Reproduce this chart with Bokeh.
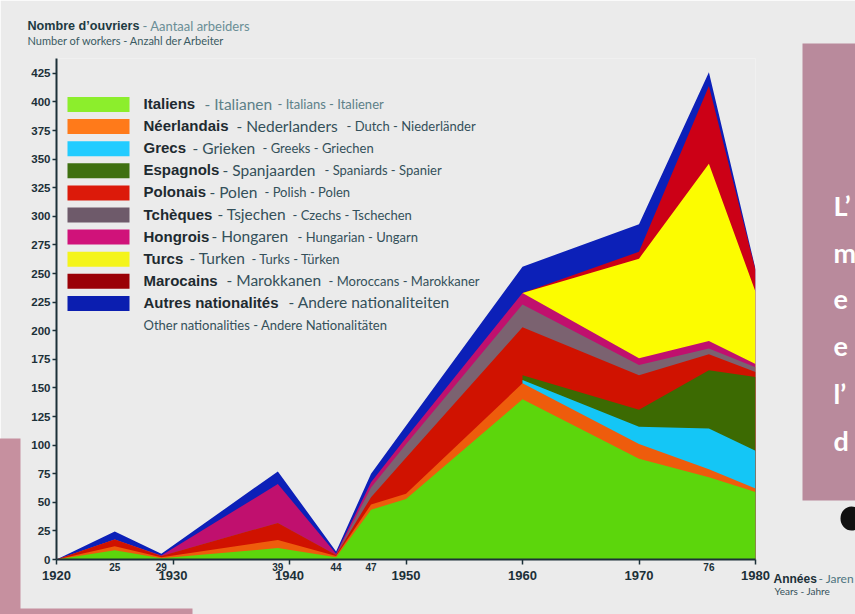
from bokeh.plotting import figure
from bokeh.models import Range1d, FixedTicker
from bokeh.core.properties import value
from bokeh.embed import file_html
from bokeh.resources import INLINE

# ---------------- data ----------------
years = [1920, 1925, 1929, 1939, 1944, 1947, 1950, 1960, 1970, 1976, 1980]
italians   = [0, 8, 1, 10, 2, 43.5, 53, 140, 88, 72, 59]
dutch      = [0, 3.5, 1, 7, 1, 4.5, 4.5, 14, 13, 7, 3]
greeks     = [None, None, None, None, None, None, None, 3, 15, 35.5, 33]
spanish    = [None, None, None, None, None, None, None, 4, 15, 51, 64.5]
polish     = [0, 6, 1, 15, 1, 6.5, 31.5, 42, 30, 14, 4.5]
czechs     = [0, 0, 0, 0, 0, 8.5, 11.7, 20, 9, 5, 4]
hungarians = [0, 0, 0.5, 34, 1, 4.6, 5.7, 10, 6, 6.5, 3]
turks      = [None, None, None, None, None, None, None, 0, 87, 155, 63]
moroccans  = [None, None, None, None, None, None, None, 0, 6, 68, 19]
others     = [0, 7, 1.5, 11, 2, 7.4, 10.6, 23, 24, 12, 1]

names_fr = ["Italiens", "Néerlandais", "Grecs", "Espagnols", "Polonais",
            "Tchèques", "Hongrois", "Turcs", "Marocains", "Autres nationalités"]
names_nl = ["- Italianen", "- Nederlanders", "- Grieken", "- Spanjaarden", "- Polen",
            "- Tsjechen", "- Hongaren", "- Turken", "- Marokkanen", "- Andere nationaliteiten"]
names_en_de = ["- Italians - Italiener", "- Dutch - Niederländer", "- Greeks - Griechen",
               "- Spaniards - Spanier", "- Polish - Polen", "- Czechs - Tschechen",
               "- Hungarian - Ungarn", "- Turks - Türken", "- Moroccans - Marokkaner", ""]
other_line = "Other nationalities - Andere Nationalitäten"

y_ticks = [0, 25, 50, 75, 100, 125, 150, 175, 200, 225, 250, 275, 300, 325, 350, 375, 400, 425]
decades = [1920, 1930, 1940, 1950, 1960, 1970, 1980]
marked_years = [1925, 1929, 1939, 1944, 1947, 1976]
marked_labels = ["25", "29", "39", "44", "47", "76"]

panel_words = ["L’", "m", "e", "e", "l’", "d"]

# ---------------- style ----------------
area_colors = ["#5cd60c", "#ee5c0c", "#14c6f6", "#3c6a02", "#d01200",
               "#7b6270", "#c0106e", "#fcfc00", "#cc0016", "#0c20b8"]
legend_colors = ["#8cee2c", "#ff7a1a", "#22ccff", "#3f7010", "#dc1a0a",
                 "#6e5a6a", "#d0127a", "#f4f41a", "#9a0006", "#0b1eb0"]
BG = "#ebebeb"
AX = "#1c3038"
DARK = "#1e2a30"
MID = "#34505a"
PINK = "#b98a9c"

W, H = 855, 614
L, R, T, B = 56, 100, 58, 55
YMAX = 438

p = figure(width=W, height=H, x_range=Range1d(1920, 1980), y_range=Range1d(0, YMAX),
           output_backend="svg", toolbar_location=None, title=None,
           min_border_left=L, min_border_right=R, min_border_top=T, min_border_bottom=B,
           background_fill_color=BG, border_fill_color=BG, outline_line_color=None)
p.xgrid.visible = False
p.ygrid.visible = False

kx = (W - L - R) / 60.0
ky = (H - T - B) / YMAX


def X(px):
    return 1920 + (px - L) / kx


def Y(py):
    return (H - B - py) / ky


def txt(xs, ys, texts, font="Lato", size="13px", style="normal", color=DARK, align="left"):
    p.text(x=xs, y=ys, text=texts, text_font=value(font), text_font_size=value(size),
           text_font_style=style, text_color=color, text_align=align,
           text_baseline="middle", level="overlay")


# ---------------- stacked areas ----------------
layers = [italians, dutch, greeks, spanish, polish, czechs, hungarians, turks, moroccans, others]
cum = [0.0] * len(years)
tops = []
for layer in layers:
    cum = [c + (v if v is not None else 0) for c, v in zip(cum, layer)]
    tops.append(cum)

for layer, top, col in reversed(list(zip(layers, tops, area_colors))):
    idx = [i for i, v in enumerate(layer) if v is not None]
    xs = [years[i] for i in idx]
    p.varea(x=xs, y1=[0] * len(xs), y2=[top[i] for i in idx], fill_color=col)

# ---------------- axes ----------------
for ax in (p.xaxis, p.yaxis):
    ax.axis_line_color = AX
    ax.axis_line_width = 2
    ax.major_tick_line_color = AX
    ax.major_tick_line_width = 1.5
    ax.major_tick_in = 0
    ax.minor_tick_line_color = None
    ax.major_label_text_font = "Liberation Sans"
    ax.major_label_text_font_style = "bold"
    ax.major_label_text_color = AX
p.yaxis.ticker = FixedTicker(ticks=y_ticks)
p.yaxis.major_tick_out = 4
p.yaxis.major_label_standoff = 2
p.yaxis.major_label_text_font_size = "11.5px"
p.xaxis.ticker = FixedTicker(ticks=decades)
p.xaxis.major_tick_out = 5
p.xaxis.major_label_standoff = 6
p.xaxis.major_label_text_font_size = "13px"

txt(marked_years, [Y(566)] * len(marked_years), marked_labels,
    font="Liberation Sans", size="10px", style="bold", color=AX, align="center")

# axis titles
txt([X(773)], [Y(578)], ["Années"], font="Liberation Sans", size="12px", style="bold", color=AX)
txt([X(818)], [Y(578)], ["- Jaren"], size="12px", color="#4f7480")
txt([X(774)], [Y(590)], ["Years - Jahre"], size="10px", color=MID)

txt([X(27)], [Y(25)], ["Nombre d’ouvriers"], font="Liberation Sans", size="12.6px",
    style="bold", color="#1d3a42")
txt([X(142)], [Y(25)], ["- Aantaal arbeiders"], size="13px", color="#6a8e96")
txt([X(27)], [Y(40)], ["Number of workers - Anzahl der Arbeiter"], size="11px", color="#3a5a62")

# ---------------- legend ----------------
row_y = [103 + 22.1 * i for i in range(len(names_fr))]
nl_x = [204, 236, 192, 222, 209, 217, 211, 189, 226, 288]
sm_x = [277, 346, 262, 324, 264, 292, 297, 251, 328, 0]

p.quad(left=[X(67)] * len(row_y), right=[X(129)] * len(row_y),
       top=[Y(r - 6.5) for r in row_y], bottom=[Y(r + 8.5) for r in row_y],
       fill_color=legend_colors, line_color=None)

txt([X(143)] * len(row_y), [Y(r) for r in row_y], names_fr,
    font="Liberation Sans", size="15px", style="bold", color=DARK)
txt([X(v) for v in nl_x], [Y(r) for r in row_y], names_nl, size="15.5px",
    color=["#5d8088"] + [MID] * (len(row_y) - 1))
sm_idx = [i for i, s in enumerate(names_en_de) if s]
txt([X(sm_x[i]) for i in sm_idx], [Y(row_y[i] + 0.5) for i in sm_idx],
    [names_en_de[i] for i in sm_idx], size="13px",
    color=["#5d8088" if i == 0 else MID for i in sm_idx])
txt([X(143)], [Y(324)], [other_line], size="13px", color=MID)

# ---------------- decorations of the panel ----------------
p.quad(left=[X(802), X(-5), X(-5)], right=[X(860), X(20), X(192)],
       top=[Y(43), Y(438), Y(608)], bottom=[Y(500), Y(620), Y(620)],
       fill_color=[PINK, "#c6909f", "#c6909f"], line_color=None, level="overlay")
p.ellipse(x=[X(851)], y=[Y(518)], width=22, height=24, width_units="screen",
          height_units="screen", fill_color="#111111", line_color=None, level="overlay")
txt([X(833)] * len(panel_words), [Y(205 + 47 * i) for i in range(len(panel_words))],
    panel_words, size="27px", style="bold", color="#ffffff")

open("out.html", "w").write(file_html(p, INLINE))
